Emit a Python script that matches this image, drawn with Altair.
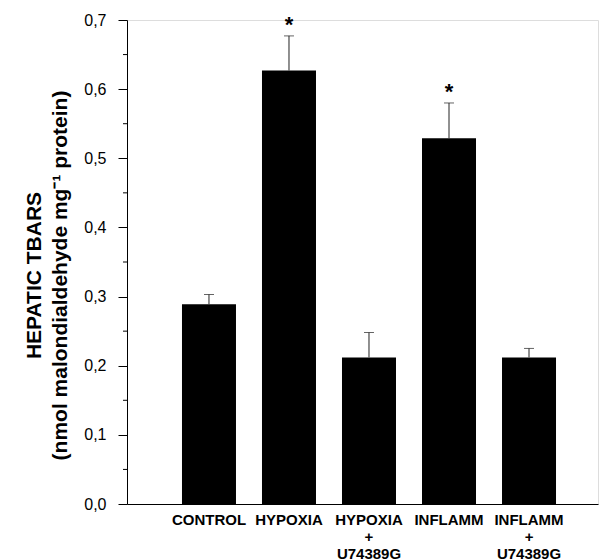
import altair as alt
import pandas as pd

categories = ["CONTROL", "HYPOXIA", "HYPOXIA|+|U74389G", "INFLAMM", "INFLAMM|+|U74389G"]
means = [0.289, 0.627, 0.212, 0.529, 0.212]
sems = [0.014, 0.050, 0.036, 0.051, 0.013]
marks = ["", "*", "", "*", ""]
major_ticks = [0.0, 0.1, 0.2, 0.3, 0.4, 0.5, 0.6, 0.7]
minor_ticks = [0.05, 0.15, 0.25, 0.35, 0.45, 0.55, 0.65]

df = pd.DataFrame({"cat": categories, "mean": means, "sem": sems, "sig": marks})
df["top"] = df["mean"] + df["sem"]
minor_df = pd.DataFrame({"v": minor_ticks})

FONT = "Liberation Sans"

xscale = alt.Scale(domain=categories, paddingInner=0.325, paddingOuter=0.606, align=0.567)
yscale = alt.Scale(domain=[0, 0.7], nice=False)

xaxis = alt.Axis(
    title=None, ticks=False, labelAngle=0, domainColor="black", domainWidth=1,
    labelExpr="split(datum.label, '|')", labelFontSize=15, labelFontWeight="bold",
    labelLineHeight=17, labelPadding=8, labelColor="black", labelFont=FONT,
)
yaxis = alt.Axis(
    values=major_ticks, grid=False, tickSize=9, tickColor="black", domainColor="black",
    labelExpr="replace(format(datum.value, '.1f'), '.', ',')",
    labelFontSize=16, labelPadding=12, labelColor="black", labelFont=FONT,
    title=["HEPATIC TBARS", "(nmol malondialdehyde mg\u207b\u00b9 protein)"],
    titleFontSize=21, titleFontWeight="bold", titleFont=FONT, titleColor="black",
    titleLineHeight=26, titleX=-93, titleY=255, titleAngle=270,
    titleAlign="center", titleBaseline="middle",
)

base = alt.Chart(df)

bars = base.mark_bar(color="black").encode(
    x=alt.X("cat:N", scale=xscale, axis=xaxis, sort=categories),
    y=alt.Y("mean:Q", scale=yscale, axis=yaxis),
)

err = base.mark_rule(color="#222", strokeWidth=1).encode(
    x=alt.X("cat:N", sort=categories),
    y="mean:Q",
    y2="top:Q",
)

caps = base.mark_tick(color="#222", orient="horizontal", size=10, thickness=1).encode(
    x=alt.X("cat:N", sort=categories),
    y="top:Q",
)

stars = base.mark_text(fontSize=22, fontWeight="bold", baseline="alphabetic", dy=-4, font=FONT, color="black").encode(
    x=alt.X("cat:N", sort=categories),
    y="top:Q",
    text="sig:N",
)

minor = alt.Chart(minor_df).mark_rule(color="black", strokeWidth=1).encode(
    y=alt.Y("v:Q", scale=yscale),
    x=alt.value(-4),
    x2=alt.value(0),
)

chart = alt.layer(bars, err, caps, stars, minor).properties(
    width=471, height=484,
    autosize=alt.AutoSizeParams(type="none"),
    padding={"left": 127, "top": 20, "right": 2, "bottom": 56},
).configure_view(stroke=None).configure(background="white")

chart.save("out.html", embed_options={"renderer": "svg", "actions": False})
